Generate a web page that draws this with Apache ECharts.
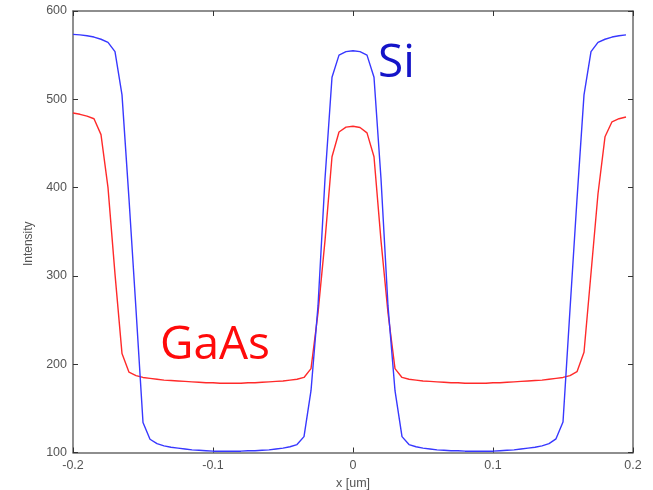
<!DOCTYPE html>
<html>
<head>
<meta charset="utf-8">
<script src="https://cdn.jsdelivr.net/npm/echarts@6/dist/echarts.min.js"></script>
<style>html,body{margin:0;padding:0;background:#fff;}#c{width:653px;height:490px;}</style>
</head>
<body>
<div id="c"></div>
<script>
// x positions in um (step 0.005)
const xValues = [
-0.200,-0.195,-0.190,-0.185,-0.180,-0.175,-0.170,-0.165,-0.160,-0.155,
-0.150,-0.145,-0.140,-0.135,-0.130,-0.125,-0.120,-0.115,-0.110,-0.105,
-0.100,-0.095,-0.090,-0.085,-0.080,-0.075,-0.070,-0.065,-0.060,-0.055,
-0.050,-0.045,-0.040,-0.035,-0.030,-0.025,-0.020,-0.015,-0.010,-0.005,
 0.000, 0.005, 0.010, 0.015, 0.020, 0.025, 0.030, 0.035, 0.040, 0.045,
 0.050, 0.055, 0.060, 0.065, 0.070, 0.075, 0.080, 0.085, 0.090, 0.095,
 0.100, 0.105, 0.110, 0.115, 0.120, 0.125, 0.130, 0.135, 0.140, 0.145,
 0.150, 0.155, 0.160, 0.165, 0.170, 0.175, 0.180, 0.185, 0.190, 0.195
];
// Si intensity
const siValues = [
573.5,573,572,570.5,568,564.5,554,505,387,262,
134,115,110,107.5,106,105,104,103,102.5,102,
101.5,101.5,101.5,101.5,101.5,102,102,102.5,103,104,
105,106.5,109,118,170,266,410,525,550,554,
555,554,550,525,410,266,170,118,109,106.5,
105,104,103,102.5,102,102,101.5,101.5,101.5,101.5,
101.5,102,102.5,103,104,105,106,107.5,110,115.5,
134.5,262,387,505,554,564.5,568,570.5,572,573
];
// GaAs intensity
const gaasValues = [
484.5,483,481,478,460,400,302,212,191,187,
185,184,183,182,181.5,181,180.5,180,179.5,179,
179,178.5,178.5,178.5,178.5,179,179,179.5,180,180.5,
181,182,183,185,195,258,340,435,463,468.5,
469.5,468,462,435,340,258,195,185,183,182,
181,180.5,180,179.5,179,179,178.5,178.5,178.5,178.5,
179,179,179.5,180,180.5,181,181.5,182,183,184,
185,187,191.5,213.5,303,393,457.5,474.5,478,480
];
const xTicks = [-0.2,-0.1,0,0.1,0.2];
const yTicks = [100,200,300,400,500,600];
const seriesNames = ['Si','GaAs'];

const chart = echarts.init(document.getElementById('c'), null, {renderer:'canvas'});
const grid = {left:73, right:20, top:11, bottom:37.5, containLabel:false, outerBoundsMode:'none'};
const frame = {lineStyle:{color:'#6a6a6a', width:1.5}};
const tickIn = {show:true, inside:true, length:5, lineStyle:{color:'#333', width:1}};
const fontFam = 'Liberation Sans, Arial, sans-serif';
chart.setOption({
  animation:false,
  backgroundColor:'#ffffff',
  grid:grid,
  xAxis:[{
    type:'value', min:xTicks[0], max:xTicks[xTicks.length-1], interval:0.1,
    axisLine:{show:true, onZero:false, ...frame},
    axisTick:tickIn, splitLine:{show:false},
    axisLabel:{color:'#555', fontSize:12.5, fontFamily:fontFam, margin:7,
      formatter:v=>{const r=Math.round(v*10)/10; return String(r);}},
    name:'x [um]', nameLocation:'middle', nameGap:23,
    nameTextStyle:{color:'#555', fontSize:12.5, fontFamily:fontFam}
  },{
    type:'value', position:'top', min:-0.2, max:0.2, interval:0.1,
    axisLine:{show:true, onZero:false, ...frame},
    axisTick:tickIn, axisLabel:{show:false}, splitLine:{show:false}
  }],
  yAxis:[{
    type:'value', min:yTicks[0], max:yTicks[yTicks.length-1], interval:100,
    axisLine:{show:true, onZero:false, ...frame},
    axisTick:tickIn, splitLine:{show:false},
    axisLabel:{color:'#555', fontSize:12.5, fontFamily:fontFam, margin:6},
    name:'Intensity', nameLocation:'middle', nameGap:38, nameRotate:90,
    nameTextStyle:{color:'#555', fontSize:12, fontFamily:fontFam, padding:[0,24,0,0]}
  },{
    type:'value', position:'right', min:100, max:600, interval:100,
    axisLine:{show:true, onZero:false, ...frame},
    axisTick:tickIn, axisLabel:{show:false}, splitLine:{show:false}
  }],
  series:[
    {name:seriesNames[1], type:'line', data:xValues.map((x,i)=>[x,gaasValues[i]]),
     showSymbol:false, lineStyle:{color:'#ff2a2a', width:1.4}, z:3},
    {name:seriesNames[0], type:'line', data:xValues.map((x,i)=>[x,siValues[i]]),
     showSymbol:false, lineStyle:{color:'#3838ff', width:1.4}, z:4}
  ],
  graphic:[
    {type:'text', left:378, top:41, z:10,
     style:{text:seriesNames[0], fill:'#1414c8', font:'46px "Open Sans", sans-serif'}},
    {type:'text', left:160, top:323, z:10,
     style:{text:seriesNames[1], fill:'#ff0a0a', font:'46px "Open Sans", sans-serif'}}
  ]
});
</script>
</body>
</html>
